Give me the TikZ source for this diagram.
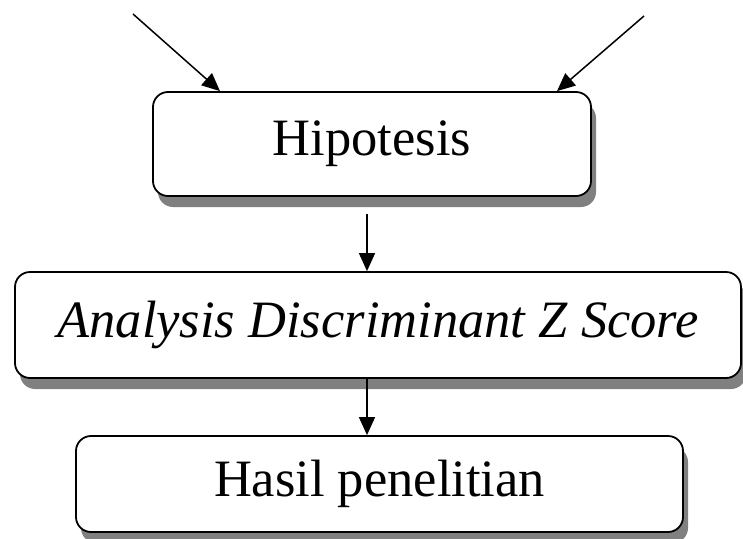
\documentclass[tikz,border=0pt]{standalone}
\usepackage{fontspec}
\setmainfont{Liberation Serif}
\usetikzlibrary{arrows.meta, shadows}

\tikzset{
  box/.style={draw, line width=1.8pt, rounded corners=15pt, fill=white, inner sep=0pt,
    font=\fontsize{52.5}{60}\selectfont,
    drop shadow={shadow xshift=5pt, shadow yshift=-11pt, fill=gray, opacity=1}},
  arr/.style={line width=1.5pt, -{Triangle[length=18pt, width=16pt]}}
}

\begin{document}
\begin{tikzpicture}[x=1pt, y=-1pt]
            \useasboundingbox (0,0) rectangle (743,538);
            \node[box, minimum width=438pt, minimum height=104pt] (hyp) at (372,144) {Hipotesis};
            \node[box, minimum width=726pt, minimum height=106pt] (ana) at (378,325) {\itshape Analysis Discriminant Z Score};
            \node[box, minimum width=607pt, minimum height=96pt] (res) at (379.5,484) {Hasil penelitian};
            \coordinate (inL) at (133,14);
            \coordinate (inR) at (644,16);
            \coordinate (mid) at (367,0);
            \draw[arr] (inL) -- ([xshift=-152pt]hyp.north);
            \draw[arr] (inR) -- ([xshift=185pt]hyp.north);
            \draw[arr] ([yshift=-17pt]hyp.south -| mid) -- (ana.north -| mid);
            \draw[arr] (ana.south -| mid) -- (res.north -| mid);
        \end{tikzpicture}
\end{document}
